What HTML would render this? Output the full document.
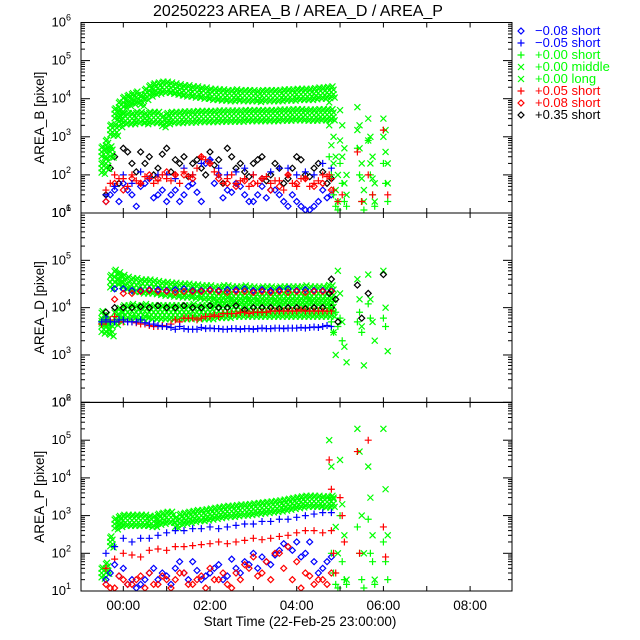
<!DOCTYPE html>
<html><head><meta charset="utf-8">
<style>
html,body{margin:0;padding:0;background:#fff;}
svg{display:block;font-family:"Liberation Sans",sans-serif;}
</style></head>
<body>
<svg id="chart" width="640" height="640" viewBox="0 0 640 640">
<text x="298" y="16" text-anchor="middle" font-size="16">20250223 AREA_B / AREA_D / AREA_P</text>
<text x="300" y="626" text-anchor="middle" font-size="13.5">Start Time (22-Feb-25 23:00:00)</text>
<g id="panels"></g>
<g id="legend"></g>
</svg>
<script>
// ---- data ----
const tDense = [-0.5,-0.4,-0.3,-0.2,-0.1,0,0.1,0.2,0.3,0.4,0.5,0.6,0.7,0.8,0.9,1.0,1.1,1.2,1.3,1.4,1.5,1.6,1.7,1.8,1.9,2.0,2.1,2.2,2.3,2.4,2.5,2.6,2.7,2.8,2.9,3.0,3.1,3.2,3.3,3.4,3.5,3.6,3.7,3.8,3.9,4.0,4.1,4.2,4.3,4.4,4.5,4.6,4.7,4.8];
const tSparse = [-0.4,-0.2,0,0.2,0.4,0.6,0.8,1.0,1.2,1.4,1.6,1.8,2.0,2.2,2.4,2.6,2.8,3.0,3.2,3.4,3.6,3.8,4.0,4.2,4.4,4.6,4.8];
const tSparse2 = [-0.3,-0.1,0.1,0.3,0.5,0.7,0.9,1.1,1.3,1.5,1.7,1.9,2.1,2.3,2.5,2.7,2.9,3.1,3.3,3.5,3.7,3.9,4.1,4.3,4.5,4.7];
const tLate = [4.75,4.8,4.85,4.9,4.95,5.0,5.05,5.1,5.15,5.4,5.45,5.5,5.55,5.65,5.7,5.75,5.8,6.0,6.05,6.1];
const xTickLabels = ["00:00","02:00","04:00","06:00","08:00"];
const xTickHours = [0,2,4,6,8];
const panelTitles = ["AREA_B [pixel]","AREA_D [pixel]","AREA_P [pixel]"];

// AREA_B
const bGreenLong = [400,600,1500,4000,6000,8000,9000,1.0e4,1.1e4,9000,1.3e4,1.6e4,1.8e4,1.9e4,2.0e4,2.0e4,1.9e4,1.8e4,1.7e4,1.6e4,1.6e4,1.5e4,1.5e4,1.4e4,1.4e4,1.3e4,1.3e4,1.25e4,1.25e4,1.2e4,1.2e4,1.25e4,1.2e4,1.2e4,1.2e4,1.2e4,1.15e4,1.2e4,1.2e4,1.2e4,1.2e4,1.2e4,1.25e4,1.25e4,1.25e4,1.3e4,1.3e4,1.3e4,1.3e4,1.35e4,1.4e4,1.4e4,1.45e4,1.5e4];
const bGreenMid = [150,200,400,1500,2500,3000,3000,3000,3200,3200,3000,3200,3200,3200,2500,3000,3200,3200,3200,3300,3300,3300,3400,3400,3400,3400,3400,3500,3500,3500,3500,3500,3500,3600,3600,3600,3600,3600,3600,3600,3600,3700,3700,3700,3800,3800,3800,3700,3700,3700,3800,3800,3800,3800];
const bBlackDiam = [30,300,500,200,400,300,150,500,250,300,200,150,400,250,500,150,120,200,300,100,150,80,300,100,150,120,80];
const bBlackDiam2 = [150,60,400,120,200,100,350,120,200,90,250,100,180,60,300,200,90,250,70,200,60,150,250,90,200,60];
const bRedPlus = [40,100,80,100,60,80,70,80,100,120,100,300,200,100,80,60,80,100,80,60,70,100,50,80,60,100,80];
const bRedPlus2 = [60,80,50,70,90,60,100,70,60,90,150,250,120,60,100,70,50,60,90,70,40,60,80,50,70,90];
const bBlueDiam = [20,40,60,30,50,80,30,20,40,30,60,20,250,100,40,60,30,20,50,40,30,15,20,12,15,40,30];
const bBlueDiam2 = [30,20,40,15,60,25,40,30,20,50,35,200,60,25,35,50,20,30,25,40,20,30,15,12,20,25];
const bBluePlus = [30,50,100,60,120,80,100,100,80,150,100,200,250,150,100,120,150,100,80,120,150,150,100,120,100,200,150];
const bRedDiam = [20,60,40,80,60,100,80,120,100,100,80,300,200,80,60,50,70,60,80,40,50,100,60,80,50,60,40];
const bLateGreenX = [8000,3000,1000,300,100,5000,2000,500,100,6000,2000,200,40,3000,1000,300,60,3000,1500,200];
const bLateGreenX2 = [2000,600,200,40,20,800,300,60,30,1500,500,80,20,800,200,80,20,1000,400,60];
const bLateGreenPlus = [300,100,30,15,12,200,60,20,15,500,100,20,12,800,100,30,15,200,60,20];
const bLateRedPlus = [100,null,40,null,20,null,30,null,null,400,null,20,null,100,null,30,null,1500,null,30];

// AREA_D
const dGreenLong = [6000,5000,3.5e4,4.5e4,4e4,3.5e4,3.2e4,3e4,3e4,2.8e4,2.8e4,2.8e4,2.7e4,2.6e4,2.5e4,2.5e4,2.4e4,2.4e4,2.3e4,2.3e4,2.3e4,2.2e4,2.2e4,2.1e4,2.1e4,2.1e4,2.0e4,2.0e4,2.1e4,2.1e4,2.0e4,2.0e4,2.0e4,2.1e4,2.0e4,2.0e4,1.9e4,2.0e4,2.0e4,2.0e4,1.9e4,2.0e4,2.0e4,2.0e4,2.0e4,2.0e4,2.0e4,2.1e4,2.0e4,2.0e4,2.0e4,2.0e4,2.0e4,2.1e4];
const dGreenMid = [4000,4000,3500,6000,7000,8000,8000,8500,8000,8000,8500,8000,8000,8000,8000,8000,8000,8000,8000,8000,8000,8500,8000,8000,8000,8000,8500,8500,8500,8500,9000,9000,9000,9000,9000,9000,9000,9000,9000,9000,9000,9000,9000,9000,9000,9000,9000,9000,9000,9000,9000,9000,9000,9000];
const dBlackDiam = [8000,1e4,1e4,1e4,1.05e4,1e4,1.1e4,1e4,1e4,1.1e4,1e4,1e4,1.1e4,1e4,1e4,1.1e4,9000,1e4,1e4,1e4,9500,1e4,1e4,9500,1e4,1e4,1e4];
const dRedDiam = [5000,1.5e4,2.0e4,2.0e4,2.2e4,2.3e4,2.2e4,2.2e4,2.1e4,2.2e4,2.2e4,2.2e4,2.3e4,2.2e4,2.1e4,2.2e4,2.2e4,2.1e4,2.2e4,2.1e4,2.2e4,2.1e4,2.2e4,2.1e4,2.2e4,2.2e4,2.2e4];
const dBlueDiam = [6000,2.5e4,2.5e4,2.3e4,2.3e4,2.4e4,2.4e4,2.3e4,2.4e4,2.5e4,2.3e4,2.3e4,2.4e4,2.3e4,2.4e4,2.4e4,2.5e4,2.3e4,2.4e4,2.3e4,2.4e4,2.5e4,2.3e4,2.4e4,2.3e4,2.3e4,2.3e4];
const dRedPlus = [4500,5000,5500,6500,5000,5000,5000,5000,4800,4500,4500,4200,4000,4000,4200,4000,4500,5500,5000,6000,6000,6000,5500,6000,6500,6500,7000,6500,7500,7500,7500,7500,8000,8000,7500,8000,8000,8000,8000,8500,8500,8500,8500,8500,8500,8500,9000,8500,8500,8500,8500,8500,8500,8500];
const dBluePlus = [5000,5500,5000,5000,5500,5500,5000,5000,5000,5500,4800,4500,4500,4200,4000,4000,3800,3500,4000,3600,3500,3500,3500,3800,3600,3700,3600,3600,3500,3500,3600,3600,3500,3600,3600,3500,3600,3700,3600,3600,3700,3700,3600,3700,3700,3700,3800,3700,3800,3900,3800,4000,4200,4000];
const dLateGreenX = [3e4,1e4,3000,1000,6e4,2e4,5000,1500,700,4e4,1.5e4,4000,600,5e4,1.5e4,5000,2000,6e4,1e4,1200];
const dLateGreenPlus = [1e4,5000,3000,8000,4000,6000,2000,null,null,5000,8000,3000,null,1.2e4,6000,null,null,6000,4000,null];
const dLateBlack = [2e4,4e4,null,1.5e4,5000,null,null,null,null,3e4,null,6000,null,2e4,null,null,null,5e4,null,null];

// AREA_P
const pGreenLong = [30,40,200,600,700,750,750,750,750,750,750,700,700,800,850,900,900,650,800,850,900,950,1000,1000,1050,1100,1150,1200,1250,1300,1300,1350,1400,1400,1450,1500,1550,1600,1650,1700,1750,1800,1900,2000,2100,2200,2300,2400,2400,2400,2400,2300,2300,2400];
const pBluePlus = [100,150,250,200,250,250,300,350,400,400,450,450,500,450,500,550,600,600,700,700,800,800,900,1000,1100,1200,1200];
const pRedPlus = [40,70,100,90,80,120,130,120,150,150,160,170,180,200,180,200,220,250,230,250,280,300,350,400,400,350,400];
const pBlueDiam = [20,50,40,20,15,30,20,25,40,30,60,20,30,50,25,40,60,100,80,50,120,150,200,100,60,40,80];
const pBlueDiam2 = [30,25,15,12,20,40,30,15,60,20,35,25,40,20,70,30,50,40,60,90,180,120,80,200,30,60];
const pRedDiam = [15,12,20,15,25,30,15,20,20,30,15,25,40,20,15,30,50,80,30,20,100,150,60,30,15,20,30];
const pRedDiam2 = [12,25,15,20,12,15,25,12,30,15,20,12,20,30,12,20,40,25,60,100,40,20,12,25,20,15];
const pLateGreenX = [1e5,2e4,3000,500,100,3e4,2000,300,20,2e5,5e4,1000,100,2e4,3000,300,20,2e5,5000,300];
const pLateGreenPlus = [3000,100,30,15,12,1000,60,20,15,500,100,20,12,800,100,60,15,200,60,20];
const pLateRed = [3e4,5000,100,30,null,3000,1000,200,null,5e4,100,null,null,1e5,null,null,null,500,80,null];

const legendLabels = ["\u22120.08 short","\u22120.05 short","+0.00 short","+0.00 middle","+0.00 long","+0.05 short","+0.08 short","+0.35 short"];
const legendColors = ["#0000ff","#0000ff","#00ff00","#00ff00","#00ff00","#ff0000","#ff0000","#000000"];
const legendSyms = ["diamond","plus","plus","x","x","plus","diamond","diamond"];

// ---- layout ----
const X0 = 81, X1 = 512;
const xPix = h => 123.3 + 43.35 * h;
const panels = [
 {top:22.5, bot:213, lo:1, hi:6, title:panelTitles[0]},
 {top:213, bot:402.3, lo:2, hi:6, title:panelTitles[1]},
 {top:402.5, bot:591, lo:1, hi:6, title:panelTitles[2]}
];
const BAND = 1.3;
const NS = "http://www.w3.org/2000/svg";
const root = document.getElementById('panels');
function mk(tag, attrs, parent){ const e=document.createElementNS(NS,tag); for(const k in attrs) e.setAttribute(k,attrs[k]); (parent||root).appendChild(e); return e; }

function marker(g, sym, x, y, color){
  let d;
  if(sym==='diamond') d=`M${x-3},${y}L${x},${y-3}L${x+3},${y}L${x},${y+3}Z`;
  else if(sym==='plus') d=`M${x-3.5},${y}H${x+3.5}M${x},${y-3.5}V${y+3.5}`;
  else d=`M${x-3},${y-3}L${x+3},${y+3}M${x-3},${y+3}L${x+3},${y-3}`;
  const p=mk('path',{d:d,fill:'none',stroke:color,'stroke-width':1.2},g);
  
  
  return p;
}

panels.forEach((P,i)=>{
  const yPix = v => P.bot - (Math.log10(v)-P.lo)/(P.hi-P.lo)*(P.bot-P.top);
  P.yPix = yPix;
  const g = mk('g',{});
  
  
  const cp = mk('clipPath',{id:'clip'+i},g);
  mk('rect',{x:X0,y:P.top,width:X1-X0,height:P.bot-P.top},cp);
  P.g = mk('g',{'clip-path':`url(#clip${i})`},g);
  
  
  const frame = mk('rect',{x:X0,y:P.top,width:X1-X0,height:P.bot-P.top,fill:'none',stroke:'#000','stroke-width':1},g);
  
  
  for(let d=P.lo; d<=P.hi; d++){
    const y=yPix(Math.pow(10,d));
    mk('line',{x1:X0,x2:X0+9,y1:y,y2:y,stroke:'#000'},g);
    mk('line',{x1:X1,x2:X1-9,y1:y,y2:y,stroke:'#000'},g);
    const t=mk('text',{x:71,y:y+4,'text-anchor':'end','font-size':13},g);
    t.textContent='10';
    const s=mk('tspan',{'font-size':9,dy:-6},t); s.textContent=d;
    
    
    if(d<P.hi) for(let m=2;m<10;m++){
      const ym=yPix(m*Math.pow(10,d));
      mk('line',{x1:X0,x2:X0+4,y1:ym,y2:ym,stroke:'#000'},g);
      mk('line',{x1:X1,x2:X1-4,y1:ym,y2:ym,stroke:'#000'},g);
    }
  }
  for(let h=0; h<=8; h++){
    const x=xPix(h);
    mk('line',{x1:x,x2:x,y1:P.bot,y2:P.bot-5,stroke:'#000'},g);
    mk('line',{x1:x,x2:x,y1:P.top,y2:P.top+5,stroke:'#000'},g);
  }
  const yt=mk('text',{x:0,y:0,'font-size':13.5,'text-anchor':'middle',transform:`translate(44,${(P.top+P.bot)/2}) rotate(-90)`},g);
  yt.textContent=P.title;
  
  
});
xTickHours.forEach((h,k)=>{
  const t=mk('text',{x:xPix(h),y:610,'text-anchor':'middle','font-size':13.5});
  t.textContent=xTickLabels[k];
  
  
});

function series(pi, times, vals, sym, color, band){
  const P=panels[pi];
  times.forEach((t,k)=>{
    const v=vals[k]; if(v==null) return;
    if(band){
      [v*BAND, v, v/BAND].forEach(vv=>marker(P.g,sym,xPix(t),P.yPix(vv),color));
      marker(P.g,sym,xPix(t+0.05),P.yPix(v*1.15),color);
      marker(P.g,sym,xPix(t+0.05),P.yPix(v/1.15),color);
      marker(P.g,sym,xPix(t+0.025),P.yPix(v*1.4),color);
      marker(P.g,sym,xPix(t+0.075),P.yPix(v/1.4),color);
    } else marker(P.g,sym,xPix(t),P.yPix(v),color);
  });
}
const G='#00ff00', R='#ff0000', B='#0000ff', K='#000000';
// panel 1
series(0,tSparse,bBlackDiam,'diamond',K);
series(0,tSparse2,bBlackDiam2,'diamond',K);
series(0,tSparse,bBlueDiam,'diamond',B);
series(0,tSparse2,bBlueDiam2,'diamond',B);
series(0,tSparse,bRedDiam,'diamond',R);
series(0,tSparse,bBluePlus,'plus',B);
series(0,tSparse,bRedPlus,'plus',R);
series(0,tSparse2,bRedPlus2,'plus',R);
series(0,tDense,bGreenLong,'x',G,true);
series(0,tDense,bGreenMid,'x',G,true);
series(0,tLate,bLateGreenX,'x',G);
series(0,tLate,bLateGreenX2,'x',G);
series(0,tLate,bLateGreenPlus,'plus',G);
series(0,tLate,bLateRedPlus,'plus',R);
// panel 2
series(1,tDense,dGreenLong,'x',G,true);
series(1,tSparse,dBlueDiam,'diamond',B);
series(1,tSparse,dRedDiam,'diamond',R);
series(1,tDense,dGreenMid,'x',G,true);
series(1,tSparse,dBlackDiam,'diamond',K);
series(1,tDense,dRedPlus,'plus',R);
series(1,tDense,dBluePlus,'plus',B);
series(1,tLate,dLateGreenX,'x',G);
series(1,tLate,dLateGreenPlus,'plus',G);
series(1,tLate,dLateBlack,'diamond',K);
// panel 3
series(2,tDense,pGreenLong,'x',G,true);
series(2,tSparse,pBluePlus,'plus',B);
series(2,tSparse,pRedPlus,'plus',R);
series(2,tSparse,pBlueDiam,'diamond',B);
series(2,tSparse2,pBlueDiam2,'diamond',B);
series(2,tSparse,pRedDiam,'diamond',R);
series(2,tSparse2,pRedDiam2,'diamond',R);
series(2,tLate,pLateGreenX,'x',G);
series(2,tLate,pLateGreenPlus,'plus',G);
series(2,tLate,pLateRed,'plus',R);

// legend
const lg=document.getElementById('legend');
legendLabels.forEach((lab,k)=>{
  const y=35+k*12;
  const e=mk('g',{},lg);
  
  
  marker(e,legendSyms[k],521,y-4,legendColors[k]);
  const t=mk('text',{x:535,y:y,'font-size':13,fill:legendColors[k]},e);
  t.textContent=lab;
});
</script>
</body></html>
